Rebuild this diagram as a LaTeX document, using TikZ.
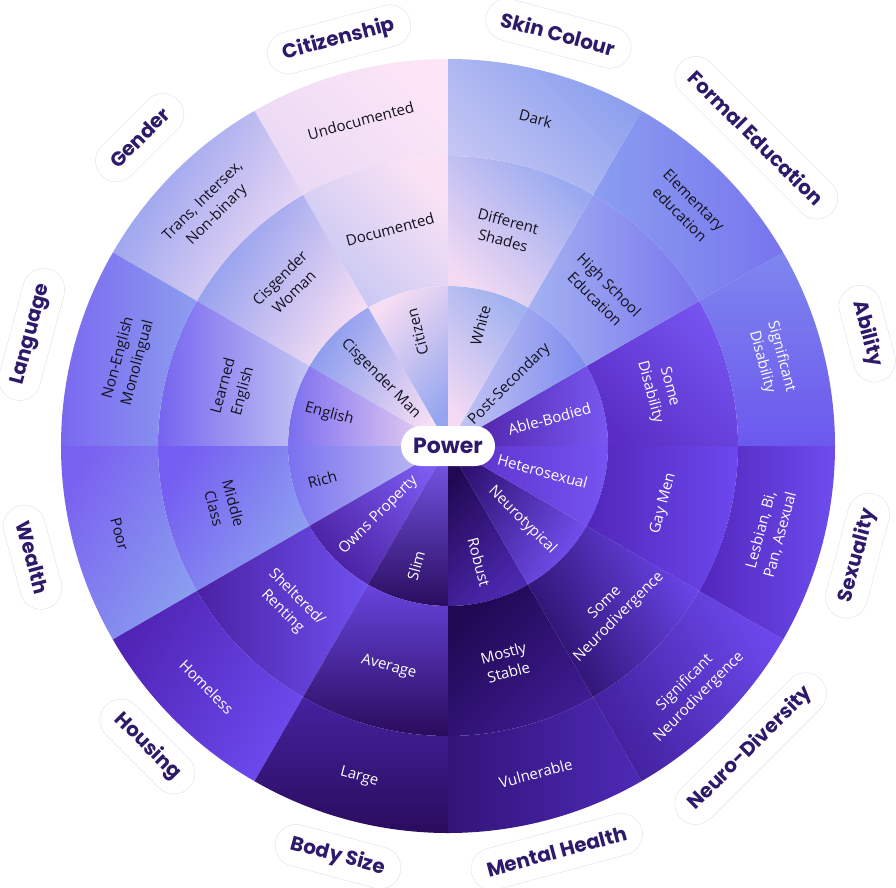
\documentclass[tikz,border=0pt]{standalone}
\usepackage{fontspec}
\setmainfont{Open Sans}
\newfontfamily\headfont{Poppins}
\usepackage{tikz}
\definecolor{headink}{HTML}{2E1A6B}
\definecolor{pillline}{HTML}{E2DEEA}
\definecolor{lightink}{HTML}{15121F}
\tikzstyle{cat} = [rectangle, draw=pillline, fill=white, rounded corners=21pt, minimum height=42pt, inner xsep=16pt, text=headink, font=\headfont\bfseries\fontsize{20}{24}\selectfont]
\tikzstyle{cell} = [align=center, inner sep=0pt, font=\fontsize{15}{20}\selectfont]
\tikzstyle{onlight} = [cell, text=lightink]
\tikzstyle{ondark} = [cell, text=white]
\tikzstyle{hub} = [rectangle, fill=white, rounded corners=20pt, minimum height=40pt, minimum width=94pt, text=headink, font=\headfont\bfseries\fontsize{22}{24}\selectfont]
% one cell of the wheel: r in, r out, start angle, colour A, colour B, shading angle
\newcommand{\ringcell}[6]{%
  \definecolor{cellA}{HTML}{#4}\definecolor{cellB}{HTML}{#5}%
  \shade[top color=cellA, bottom color=cellB, shading angle=#6]
    (#3:#1pt) arc[start angle=#3, end angle=#3+30, radius=#1pt]
    -- (#3+30:#2pt) arc[start angle=#3+30, end angle=#3, radius=#2pt] -- cycle;}

\begin{document}
\begin{tikzpicture}
            \useasboundingbox (-448pt,-441pt) rectangle (448pt,446pt);
            % Citizenship
            \ringcell{0.5}{160}{90}{F6DDF3}{93A5F0}{45}
            \ringcell{160}{290}{90}{FAE2F4}{C4C6F3}{-45}
            \ringcell{290}{387}{90}{FCE5F6}{EAD9F5}{-45}
            % Gender
            \ringcell{0.5}{160}{120}{8A9CEE}{F8DFF3}{60}
            \ringcell{160}{290}{120}{8A9AEE}{F6DEF3}{60}
            \ringcell{290}{387}{120}{8D9BEE}{F0DCF4}{60}
            % Language
            \ringcell{0.5}{160}{150}{7A6EF0}{F7DDF2}{90}
            \ringcell{160}{290}{150}{7664F0}{C4C6F3}{90}
            \ringcell{290}{387}{150}{7A68F0}{8C9EEF}{90}
            % Wealth
            \ringcell{0.5}{160}{180}{7A72F0}{C6C6F3}{90}
            \ringcell{160}{290}{180}{755EF2}{8EA2EF}{60}
            \ringcell{290}{387}{180}{7A62F0}{8A9EEF}{60}
            % Housing
            \ringcell{0.5}{160}{210}{4A20A0}{7C5CF2}{135}
            \ringcell{160}{290}{210}{4A22A4}{7050F0}{90}
            \ringcell{290}{387}{210}{5024B4}{6C4AEE}{60}
            % Body Size
            \ringcell{0.5}{160}{240}{2A0C5E}{7A5CF2}{180}
            \ringcell{160}{290}{240}{2A0C5C}{6844DE}{180}
            \ringcell{290}{387}{240}{2A0C5C}{4522A0}{180}
            % Mental Health
            \ringcell{0.5}{160}{270}{210852}{4C28B0}{45}
            \ringcell{160}{290}{270}{200852}{3E1C92}{45}
            \ringcell{290}{387}{270}{321478}{4E2AB6}{90}
            % Neuro-Diversity
            \ringcell{0.5}{160}{300}{2E1070}{7250F0}{60}
            \ringcell{160}{290}{300}{2A0E66}{6A46EA}{120}
            \ringcell{290}{387}{300}{42209C}{6C48EC}{120}
            % Sexuality
            \ringcell{0.5}{160}{330}{5A2EC6}{7654F2}{90}
            \ringcell{160}{290}{330}{5226BA}{6C48EE}{90}
            \ringcell{290}{387}{330}{5226BC}{6E4CEE}{90}
            % Ability
            \ringcell{0.5}{160}{0}{4A1C9E}{7858F2}{90}
            \ringcell{160}{290}{0}{5A2EC6}{7654F0}{135}
            \ringcell{290}{387}{0}{6C58EE}{7E86EE}{180}
            % Formal Education
            \ringcell{0.5}{160}{30}{7E8CEE}{C8C8F4}{-90}
            \ringcell{160}{290}{30}{7A76EE}{A4B2F1}{-90}
            \ringcell{290}{387}{30}{7874EE}{8A9EF0}{-90}
            % Skin Colour
            \ringcell{0.5}{160}{60}{A2B2F0}{F4DBF3}{-45}
            \ringcell{160}{290}{60}{96A8F0}{F2DAF3}{-45}
            \ringcell{290}{387}{60}{8A9EEE}{C4C6F3}{-45}
            % Inner ring
            \node [onlight, rotate=105] (citizen) at (105:118pt) {Citizen};
            \node [onlight, rotate=-45] (cisman) at (135:95pt) {Cisgender Man};
            \node [onlight, rotate=-15] (english) at (165:123pt) {English};
            \node [onlight, rotate=15] (rich) at (195:130pt) {Rich};
            \node [ondark, rotate=45] (owns) at (225:98pt) {Owns Property};
            \node [ondark, rotate=75] (slim) at (255:124pt) {Slim};
            \node [ondark, rotate=-75] (robust) at (285:120pt) {Robust};
            \node [ondark, rotate=-45] (neurotyp) at (315:105pt) {Neurotypical};
            \node [ondark, rotate=-15] (hetero) at (345:98pt) {Heterosexual};
            \node [ondark, rotate=15] (able) at (15:105pt) {Able-Bodied};
            \node [onlight, rotate=45] (postsec) at (45:87pt) {Post-Secondary};
            \node [onlight, rotate=75] (white) at (75:125pt) {White};
            % Middle ring
            \node [onlight, rotate=15] (documented) at (105:224pt) {Documented};
            \node [onlight, rotate=45] (ciswoman) at (135:228pt) {Cisgender\\Woman};
            \node [onlight, rotate=75] (learned) at (165:222pt) {Learned\\English};
            \node [onlight, rotate=-75] (middle) at (195:232pt) {Middle\\Class};
            \node [ondark, rotate=-45] (renting) at (225:224pt) {Sheltered/\\Renting};
            \node [ondark, rotate=-15] (average) at (255:229pt) {Average};
            \node [ondark, rotate=15] (stable) at (285:224pt) {Mostly\\Stable};
            \node [ondark, rotate=45] (someneuro) at (315:232pt) {Some\\Neurodivergence};
            \node [ondark, rotate=75] (gaymen) at (345:223pt) {Gay Men};
            \node [ondark, rotate=-75] (somedis) at (15:219pt) {Some\\Disability};
            \node [onlight, rotate=-45] (highschool) at (45:218pt) {High School\\Education};
            \node [onlight, rotate=-15] (shades) at (75:223pt) {Different\\Shades};
            % Outer ring
            \node [onlight, rotate=15] (undoc) at (105:337pt) {Undocumented};
            \node [onlight, rotate=45] (trans) at (135:336pt) {Trans, Intersex,\\Non-binary};
            \node [onlight, rotate=75] (nonenglish) at (165:331pt) {Non-English\\Monolingual};
            \node [onlight, rotate=-75] (poor) at (195:340pt) {Poor};
            \node [ondark, rotate=-45] (homeless) at (225:341pt) {Homeless};
            \node [ondark, rotate=-15] (large) at (255:343pt) {Large};
            \node [ondark, rotate=15] (vulnerable) at (285:339pt) {Vulnerable};
            \node [ondark, rotate=45] (signeuro) at (315:345pt) {Significant\\Neurodivergence};
            \node [ondark, rotate=75] (lesbian) at (345:334pt) {Lesbian, Bi,\\Pan, Asexual};
            \node [ondark, rotate=-75] (sigdis) at (15:335pt) {Significant\\Disability};
            \node [onlight, rotate=-45] (elementary) at (45:338pt) {Elementary\\education};
            \node [onlight, rotate=-15] (dark) at (75:339pt) {Dark};
            % Category labels
            \node [cat, rotate=15] (citizenship) at (105:421pt) {Citizenship};
            \node [cat, rotate=-15] (skin) at (75:427pt) {Skin Colour};
            \node [cat, rotate=-45] (education) at (45:436pt) {Formal Education};
            \node [cat, rotate=-75] (ability) at (15:434pt) {Ability};
            \node [cat, rotate=75] (sexuality) at (345:424pt) {Sexuality};
            \node [cat, rotate=45] (neurodiv) at (315:428pt) {Neuro-Diversity};
            \node [cat, rotate=15] (mental) at (285:420pt) {Mental Health};
            \node [cat, rotate=-15] (bodysize) at (255:425pt) {Body Size};
            \node [cat, rotate=-45] (housing) at (225:425pt) {Housing};
            \node [cat, rotate=-75] (wealth) at (195:430pt) {Wealth};
            \node [cat, rotate=75] (language) at (165:431pt) {Language};
            \node [cat, rotate=45] (gender) at (135:436pt) {Gender};
            % Centre
            \node [hub] (power) at (0,0) {Power};
          \end{tikzpicture}
\end{document}
